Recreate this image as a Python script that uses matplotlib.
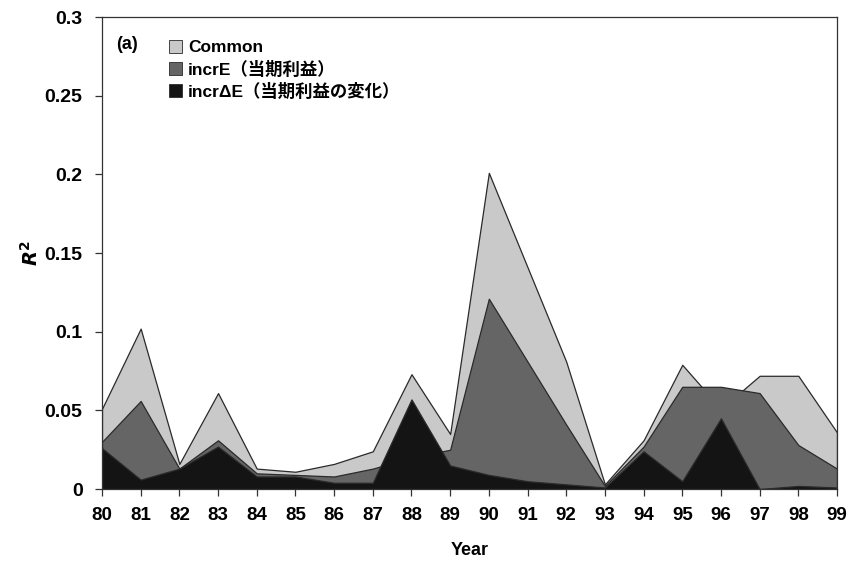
import matplotlib
matplotlib.use("Agg")
import matplotlib.pyplot as plt
from matplotlib.patches import Patch

plt.rcParams['font.family'] = ['Liberation Sans', 'Noto Sans CJK JP', 'DejaVu Sans']
plt.rcParams['font.weight'] = 'bold'

years = [80, 81, 82, 83, 84, 85, 86, 87, 88, 89,
         90, 91, 92, 93, 94, 95, 96, 97, 98, 99]
common = [0.051, 0.102, 0.016, 0.061, 0.013, 0.011, 0.016, 0.024, 0.073, 0.035,
          0.201, 0.141, 0.081, 0.003, 0.031, 0.079, 0.051, 0.072, 0.072, 0.036]
incr_e = [0.030, 0.056, 0.013, 0.031, 0.010, 0.009, 0.008, 0.013, 0.020, 0.025,
          0.121, 0.081, 0.041, 0.002, 0.027, 0.065, 0.065, 0.061, 0.028, 0.013]
incr_de = [0.026, 0.006, 0.013, 0.027, 0.008, 0.008, 0.004, 0.004, 0.057, 0.015,
           0.009, 0.005, 0.003, 0.001, 0.024, 0.005, 0.045, 0.000, 0.002, 0.001]

labels = ['Common', 'incrE（当期利益）', 'incrΔE（当期利益の変化）']
colors = ['#c9c9c9', '#656565', '#141414']
series = [common, incr_e, incr_de]

fig = plt.figure(figsize=(8.52, 5.70), dpi=100)
ax = fig.add_axes([0.1197, 0.142, 0.8627, 0.828])

for vals, col in zip(series, colors):
    ax.fill_between(years, 0, vals, facecolor=col, edgecolor='#2a2a2a',
                    linewidth=0.9, zorder=2)

ax.set_xlim(80, 99)
ax.set_ylim(0, 0.3)
ax.set_xticks(years)
ax.set_xticklabels([str(y) for y in years], fontsize=13.5, fontweight='bold')
yticks = [0, 0.05, 0.1, 0.15, 0.2, 0.25, 0.3]
ax.set_yticks(yticks)
ax.set_yticklabels(['0', '0.05', '0.1', '0.15', '0.2', '0.25', '0.3'],
                   fontsize=14, fontweight='bold')
ax.tick_params(axis='both', direction='out', length=5, width=0.9, color='#333333')
ax.tick_params(axis='x', pad=8)
ax.tick_params(axis='y', pad=9)
for s in ax.spines.values():
    s.set_linewidth(0.9)
    s.set_color('#333333')

ax.set_xlabel('Year', fontsize=13, fontweight='bold', labelpad=13)
ax.set_ylabel('$\\boldsymbol{R}^{\\mathbf{2}}$', fontsize=14, labelpad=2)

ax.text(0.019, 0.942, '(a)', transform=ax.transAxes, fontsize=13,
        fontweight='bold', va='center', ha='left')

handles = [Patch(facecolor=c, edgecolor='#2a2a2a', linewidth=0.6) for c in colors]
leg = ax.legend(handles, labels, loc='upper left', bbox_to_anchor=(0.07, 0.985),
                frameon=False, handlelength=0.75, handleheight=0.75,
                handletextpad=0.35, labelspacing=0.3,
                prop={'weight': 'bold', 'size': 12.5})

fig.savefig('out.png', dpi=100)
